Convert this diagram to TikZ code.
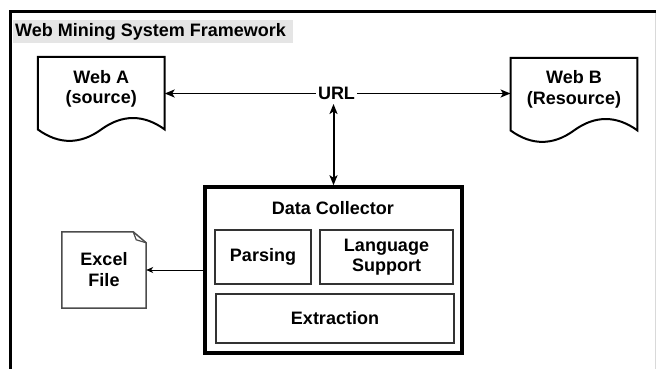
\documentclass[tikz,border=0pt]{standalone}
\usepackage{fontspec}
\setmainfont{Liberation Sans}
\usetikzlibrary{arrows.meta,calc}

% Wavy "document" outline drawn around an empty rectangular node
\newcommand\docoutline[1]{%
  \draw[docline] (#1.north west) -- (#1.north east)
    -- ($(#1.south east)+(0,-12.75)$)
    .. controls ($(#1.south east)+(-21,-28)$) and ($(#1.south)+(21,-28)$) .. ($(#1.south)+(0,-12.75)$)
    .. controls ($(#1.south)+(-21,2.5)$) and ($(#1.south west)+(21,2.5)$) .. ($(#1.south west)+(0,-12.75)$)
    -- cycle;}

\begin{document}
\begin{tikzpicture}[x=1pt,y=-1pt,
  lbl/.style={font=\fontsize{18}{20.5}\selectfont\bfseries, align=center, inner sep=0pt},
  docarea/.style={minimum width=126.5pt, minimum height=85pt, inner sep=0pt},
  docline/.style={draw=black, line width=2pt, line join=miter},
  inbox/.style={draw=black!80, line width=2pt, inner sep=0pt, align=center,
    font=\fontsize{18}{20}\selectfont\bfseries},
  linkarrow/.style={line width=1.6pt, -{Stealth[length=10pt,width=8pt,inset=2.5pt]}},
  bothways/.style={line width=2pt, {Stealth[length=10pt,width=8pt,inset=2.5pt]}-{Stealth[length=10pt,width=8pt,inset=2.5pt]}},
  thinarrow/.style={line width=1pt, -{Stealth[length=7pt,width=6pt,inset=2pt]}}
]
\useasboundingbox (0,0) rectangle (656,369);

% outer frame
\draw[line width=3pt] (10.5,369) -- (10.5,11.5) -- (656,11.5);
\draw[black!15, line width=1pt] (655,13) -- (655,369);

% title
\node[fill=black!10, minimum width=280pt, minimum height=23pt, anchor=north west,
      inner sep=0pt] (titlebg) at (13,20) {};
\node[lbl, anchor=west] (title) at ($(titlebg.west)+(2,0.5)$) {Web Mining System Framework};

% the two web documents
\node[docarea] (wa) at (101.25,99.5) {};
\docoutline{wa}
\node[lbl] (watext) at (101.25,89) {Web A\\(source)};

\node[docarea] (wb) at (574,100.5) {};
\docoutline{wb}
\node[lbl] (wbtext) at (574,89.5) {Web B\\(Resource)};

% URL label on the link between them
\node[lbl, inner ysep=4pt, inner xsep=2pt] (url) at (336.5,93.5) {URL};
\draw[linkarrow] (url.west) -- (url.west -| wa.east);
\draw[linkarrow] (url.east) -- (url.east -| wb.west);

% data collector
\node[draw=black, line width=3.5pt, minimum width=257pt, minimum height=166pt,
      inner sep=0pt] (dc) at (333.5,270) {};
\node[lbl] (dctitle) at (333,208) {Data Collector};
\node[inbox, minimum width=96pt, minimum height=54pt] (parse) at (263,257) {Parsing};
\node[inbox, minimum width=133pt, minimum height=54pt] (lang) at (386.5,257) {Language\\Support};
\node[inbox, minimum width=238pt, minimum height=49pt] (extr) at (335,318.5) {Extraction};

\draw[bothways] (dc.north |- url.south) -- (dc.north);

% excel file (note with folded corner)
\node[minimum width=84pt, minimum height=76pt, inner sep=0pt, align=center,
      font=\fontsize{18}{21}\selectfont\bfseries] (excel) at (104,270) {Excel\\File};
\draw[black!70, line width=1.5pt, line join=miter]
  (excel.north west) -- ($(excel.north east)+(-13,0)$) -- ($(excel.north east)+(0,11)$)
  -- (excel.south east) -- (excel.south west) -- cycle;
\draw[black!70, line width=1.2pt, line join=miter]
  ($(excel.north east)+(-13,0)$) -- ($(excel.north east)+(-10,8)$) -- ($(excel.north east)+(0,11)$);

\draw[thinarrow] (dc.west |- excel.east) -- (excel.east);
\end{tikzpicture}
\end{document}
